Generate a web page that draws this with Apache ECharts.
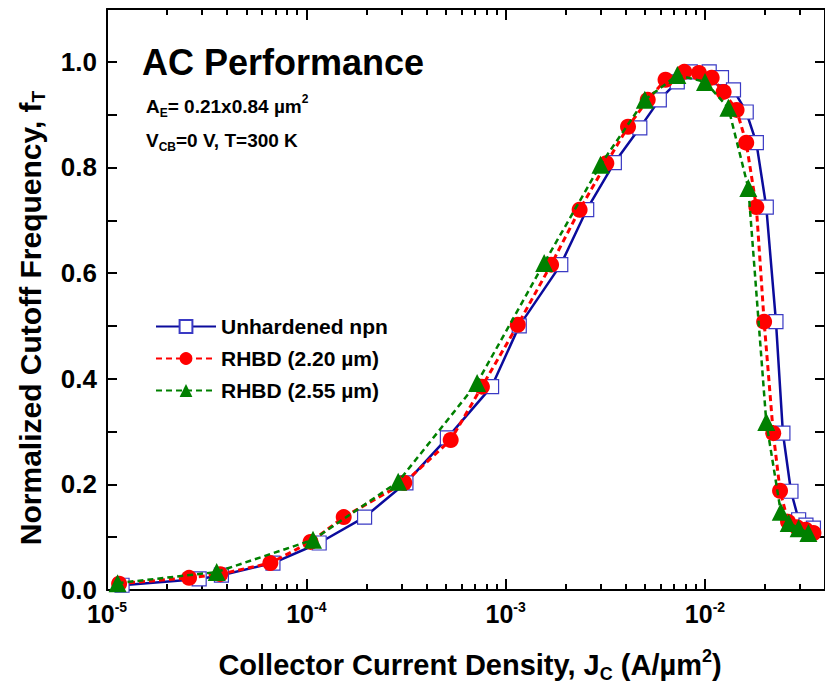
<!DOCTYPE html>
<html>
<head>
<meta charset="utf-8">
<title>AC Performance</title>
<script src="https://cdn.jsdelivr.net/npm/echarts@6/dist/echarts.min.js"></script>
<style>
  html, body { margin: 0; padding: 0; background: #fff; }
  #chart { width: 825px; height: 692px; }
</style>
</head>
<body>
<div id="chart"></div>
<script>
// Collector current density (A/um^2) and normalized fT for each device
const unhardenedJc = [1.19e-5, 2.9e-5, 3.75e-5, 6.8e-5, 1.16e-4, 1.96e-4, 3.16e-4, 5.1e-4, 8.5e-4, 1.17e-3,
  1.89e-3, 2.55e-3, 3.51e-3, 4.71e-3, 5.9e-3, 7.26e-3, 8.44e-3, 1.05e-2, 1.21e-2, 1.39e-2,
  1.61e-2, 1.81e-2, 2.03e-2, 2.27e-2, 2.46e-2, 2.70e-2, 2.95e-2, 3.21e-2, 3.5e-2];
const unhardenedFt = [0.009, 0.021, 0.028, 0.051, 0.089, 0.138, 0.203, 0.288, 0.385, 0.500,
  0.616, 0.720, 0.809, 0.875, 0.928, 0.962, 0.981, 0.981, 0.970, 0.947,
  0.905, 0.847, 0.725, 0.508, 0.297, 0.187, 0.133, 0.123, 0.117];

const rhbd220Jc = [1.15e-5, 2.58e-5, 3.7e-5, 6.6e-5, 1.05e-4, 1.54e-4, 3.1e-4, 5.3e-4, 7.6e-4, 1.15e-3,
  1.69e-3, 2.35e-3, 3.2e-3, 4.11e-3, 5.16e-3, 6.34e-3, 7.87e-3, 9.33e-3, 1.08e-2, 1.24e-2,
  1.44e-2, 1.61e-2, 1.81e-2, 1.98e-2, 2.20e-2, 2.38e-2, 2.61e-2, 2.89e-2, 3.2e-2, 3.5e-2];
const rhbd220Ft = [0.012, 0.023, 0.030, 0.051, 0.091, 0.138, 0.203, 0.284, 0.385, 0.502,
  0.616, 0.720, 0.808, 0.877, 0.928, 0.966, 0.981, 0.979, 0.970, 0.943,
  0.909, 0.847, 0.725, 0.508, 0.297, 0.188, 0.129, 0.119, 0.114, 0.108];

const rhbd255Jc = [1.13e-5, 3.55e-5, 1.08e-4, 2.89e-4, 7.19e-4, 1.56e-3, 2.99e-3, 4.99e-3, 7.27e-3, 1.0e-2,
  1.31e-2, 1.65e-2, 2.03e-2, 2.40e-2, 2.63e-2, 2.95e-2, 3.3e-2];
const rhbd255Ft = [0.013, 0.034, 0.095, 0.205, 0.392, 0.619, 0.805, 0.928, 0.975, 0.962,
  0.913, 0.761, 0.318, 0.148, 0.127, 0.117, 0.108];

const seriesNames = ['Unhardened npn', 'RHBD (2.20 \u00b5m)', 'RHBD (2.55 \u00b5m)'];

// Axis ticks and labels
const xMajorTicks = [1e-5, 1e-4, 1e-3, 1e-2];
const xMinorTicks = [];
[1e-5, 1e-4, 1e-3, 1e-2].forEach(function (d) {
  [2, 3, 4, 5, 6, 7, 8, 9].forEach(function (m) {
    const v = +(m * d).toPrecision(3);
    if (v < 0.04) xMinorTicks.push(v);
  });
});
const yLabelValues = [0, 0.2, 0.4, 0.6, 0.8, 1.0];
const yTickValues = [0, 0.1, 0.2, 0.3, 0.4, 0.5, 0.6, 0.7, 0.8, 0.9, 1.0];

const FONT = '"Liberation Sans", Arial, Helvetica, sans-serif';

function pairs(xs, ys) {
  return xs.map(function (x, i) { return [x, ys[i]]; });
}

const chart = echarts.init(document.getElementById('chart'), null, { renderer: 'svg' });

const xBase = {
  type: 'log', logBase: 10, min: 1e-5, max: 0.04, gridIndex: 0,
  splitLine: { show: false }, minorTick: { show: false }, minorSplitLine: { show: false }
};
const yBase = {
  type: 'value', min: 0, max: 1.1, gridIndex: 0,
  splitLine: { show: false }
};
const axisLineStyle = { show: true, lineStyle: { color: '#000', width: 2 } };

function expLabel(v) {
  const e = Math.round(Math.log10(v));
  return '{b|10}{s|' + e + '}';
}

const option = {
  backgroundColor: '#fff',
  animation: false,
  grid: { left: 107, top: 9, width: 727, height: 581, containLabel: false },
  xAxis: [
    Object.assign({}, xBase, {
      position: 'bottom',
      axisLine: axisLineStyle,
      axisTick: { show: true, inside: true, length: 11, customValues: xMajorTicks, lineStyle: { color: '#000', width: 2 } },
      axisLabel: {
        show: true, customValues: xMajorTicks, margin: 10,
        formatter: expLabel,
        rich: {
          b: { fontFamily: FONT, fontWeight: 'bold', fontSize: 25, lineHeight: 27, color: '#000' },
          s: { fontFamily: FONT, fontWeight: 'bold', fontSize: 14, lineHeight: 14, verticalAlign: 'top', color: '#000' }
        }
      }
    }),
    Object.assign({}, xBase, {
      position: 'bottom',
      axisLine: { show: false },
      axisTick: { show: true, inside: true, length: 6, customValues: xMinorTicks, lineStyle: { color: '#000', width: 2 } },
      axisLabel: { show: false }
    }),
    Object.assign({}, xBase, {
      position: 'top',
      axisLine: axisLineStyle,
      axisTick: { show: true, inside: true, length: 11, customValues: xMajorTicks, lineStyle: { color: '#000', width: 2 } },
      axisLabel: { show: false }
    }),
    Object.assign({}, xBase, {
      position: 'top',
      axisLine: { show: false },
      axisTick: { show: true, inside: true, length: 6, customValues: xMinorTicks, lineStyle: { color: '#000', width: 2 } },
      axisLabel: { show: false }
    })
  ],
  yAxis: [
    Object.assign({}, yBase, {
      position: 'left',
      axisLine: axisLineStyle,
      axisTick: { show: true, inside: true, length: 10, customValues: yTickValues, lineStyle: { color: '#000', width: 2 } },
      axisLabel: {
        show: true, customValues: yLabelValues, margin: 10,
        formatter: function (v) { return v.toFixed(1); },
        fontFamily: FONT, fontWeight: 'bold', fontSize: 26, color: '#000'
      }
    }),
    Object.assign({}, yBase, {
      position: 'right',
      axisLine: axisLineStyle,
      axisTick: { show: true, inside: true, length: 10, customValues: yTickValues, lineStyle: { color: '#000', width: 2 } },
      axisLabel: { show: false }
    })
  ],
  legend: {
    orient: 'vertical',
    left: 150, top: 311,
    itemWidth: 60, itemHeight: 16, itemGap: 11,
    data: seriesNames,
    textStyle: { fontFamily: FONT, fontWeight: 'bold', fontSize: 21, color: '#000' }
  },
  series: [
    {
      name: seriesNames[0], type: 'line', xAxisIndex: 0, yAxisIndex: 0,
      data: pairs(unhardenedJc, unhardenedFt),
      symbol: 'rect', symbolSize: 14,
      lineStyle: { color: '#0b0b9c', width: 2.5, type: 'solid' },
      itemStyle: { color: '#ffffff', borderColor: '#3a3ac4', borderWidth: 1.2 },
      z: 2
    },
    {
      name: seriesNames[1], type: 'line', xAxisIndex: 0, yAxisIndex: 0,
      data: pairs(rhbd220Jc, rhbd220Ft),
      symbol: 'circle', symbolSize: 16,
      lineStyle: { color: '#ff0000', width: 3, type: [6, 4] },
      itemStyle: { color: '#ff0000', borderWidth: 0 },
      z: 3
    },
    {
      name: seriesNames[2], type: 'line', xAxisIndex: 0, yAxisIndex: 0,
      data: pairs(rhbd255Jc, rhbd255Ft),
      symbol: 'triangle', symbolSize: 18,
      lineStyle: { color: '#008000', width: 2.5, type: [6, 4] },
      itemStyle: { color: '#008000', borderWidth: 0 },
      z: 4
    }
  ],
  graphic: [
    {
      type: 'text', left: 142, top: 44, z: 10,
      style: { text: 'AC Performance', fontFamily: FONT, fontWeight: 'bold', fontSize: 36, fill: '#000' }
    },
    {
      type: 'text', x: 146, y: 106, z: 10,
      style: {
        text: '{n|A}{s|E}{n|= 0.21x0.84 \u00b5m}{p|2}',
        verticalAlign: 'middle',
        rich: {
          n: { fontFamily: FONT, fontWeight: 'bold', fontSize: 19, lineHeight: 26, fill: '#000' },
          s: { fontFamily: FONT, fontWeight: 'bold', fontSize: 12, lineHeight: 10, verticalAlign: 'bottom', fill: '#000' },
          p: { fontFamily: FONT, fontWeight: 'bold', fontSize: 12, lineHeight: 10, verticalAlign: 'top', fill: '#000' }
        }
      }
    },
    {
      type: 'text', x: 146, y: 140, z: 10,
      style: {
        text: '{n|V}{s|CB}{n|=0 V, T=300 K}',
        verticalAlign: 'middle',
        rich: {
          n: { fontFamily: FONT, fontWeight: 'bold', fontSize: 19, lineHeight: 26, fill: '#000' },
          s: { fontFamily: FONT, fontWeight: 'bold', fontSize: 12, lineHeight: 10, verticalAlign: 'bottom', fill: '#000' }
        }
      }
    },
    {
      type: 'text', x: 470, y: 665, z: 10,
      style: {
        text: '{n|Collector Current Density, J}{s|C}{n| (A/\u00b5m}{p|2}{n|)}',
        align: 'center', verticalAlign: 'middle',
        rich: {
          n: { fontFamily: FONT, fontWeight: 'bold', fontSize: 29, lineHeight: 36, fill: '#000' },
          s: { fontFamily: FONT, fontWeight: 'bold', fontSize: 18, lineHeight: 14, verticalAlign: 'bottom', fill: '#000' },
          p: { fontFamily: FONT, fontWeight: 'bold', fontSize: 18, lineHeight: 14, verticalAlign: 'top', fill: '#000' }
        }
      }
    },
    {
      type: 'text', x: 30, y: 318, z: 10, rotation: Math.PI / 2,
      style: {
        text: '{n|Normalized Cutoff Frequency, f}{s|T}',
        align: 'center', verticalAlign: 'middle',
        rich: {
          n: { fontFamily: FONT, fontWeight: 'bold', fontSize: 30, lineHeight: 36, fill: '#000' },
          s: { fontFamily: FONT, fontWeight: 'bold', fontSize: 19, lineHeight: 14, verticalAlign: 'bottom', fill: '#000' }
        }
      }
    }
  ]
};

chart.setOption(option);
</script>
</body>
</html>
